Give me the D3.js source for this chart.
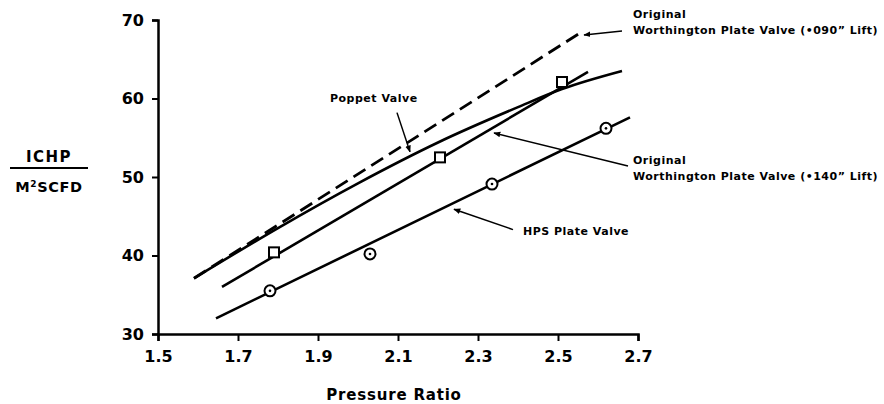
<!DOCTYPE html>
<html>
<head>
<meta charset="utf-8">
<script src="https://cdn.jsdelivr.net/npm/d3@7"></script>
<style>
  body { margin: 0; background: #fff; }
  text { font-family: "DejaVu Sans", sans-serif; font-weight: bold; fill: #000; }
</style>
</head>
<body>
<script>
// data (pressure ratio, ICHP / M2SCFD)
const xTicks = [1.5, 1.7, 1.9, 2.1, 2.3, 2.5, 2.7];
const yTicks = [30, 40, 50, 60, 70];

const lift090 = [[1.59, 37.1], [2.56, 68.5]];
const poppet = [[1.59, 37.1], [1.8, 43.5], [2.0, 49.2], [2.2, 54.4], [2.4, 58.9], [2.51, 61.2], [2.66, 63.5]];
const lift140Line = [[1.66, 36.0], [2.575, 63.4]];
const lift140Pts = [[1.79, 40.4], [2.205, 52.5], [2.51, 62.1]];
const hpsLine = [[1.645, 32.0], [2.68, 57.6]];
const hpsPts = [[1.78, 35.5], [2.03, 40.2], [2.335, 49.1], [2.62, 56.2]];

// annotations: text lines, text anchor, arrow from -> to (data units)
const notes = [
  {lines: ["Poppet Valve"], at: [1.93, 59.5], from: [2.0975, 58.2], to: [2.13, 53.2]},
  {lines: ["Original", "Worthington Plate Valve (\u2022090\u201D Lift)"], at: [2.6875, 70.2], from: [2.66, 68.6], to: [2.565, 68.1]},
  {lines: ["Original", "Worthington Plate Valve (\u2022140\u201D Lift)"], at: [2.6875, 51.7], from: [2.675, 51.4], to: [2.34, 55.6]},
  {lines: ["HPS Plate Valve"], at: [2.4125, 42.6], from: [2.3875, 43.3], to: [2.24, 45.9]}
];

const width = 884, height = 404;

const svg = d3.select("body").append("svg")
    .attr("width", width)
    .attr("height", height);

const x = d3.scaleLinear().domain([1.5, 2.7]).range([158, 638]);
const y = d3.scaleLinear().domain([30, 70]).range([334, 20]);

svg.append("defs").append("marker")
    .attr("id", "arr")
    .attr("viewBox", "0 0 10 10")
    .attr("refX", 9).attr("refY", 5)
    .attr("markerWidth", 7).attr("markerHeight", 7)
    .attr("markerUnits", "userSpaceOnUse")
    .attr("orient", "auto")
    .append("path")
    .attr("d", "M0,1 L10,5 L0,9 Z")
    .attr("fill", "#000");

// axes
const xAxis = svg.append("g")
    .attr("transform", `translate(0,${y(30)})`)
    .call(d3.axisBottom(x).tickValues(xTicks).tickFormat(d3.format(".1f")).tickSize(7).tickPadding(10));
const yAxis = svg.append("g")
    .attr("transform", `translate(${x(1.5)},0)`)
    .call(d3.axisLeft(y).tickValues(yTicks).tickSize(6).tickPadding(8));

[xAxis, yAxis].forEach(g => {
    g.select(".domain").attr("stroke", "#000").attr("stroke-width", 2.5);
    g.selectAll(".tick line").attr("stroke", "#000").attr("stroke-width", 2);
    g.selectAll(".tick text").style("font-size", "16px").style("font-family", "DejaVu Sans").style("font-weight", "bold");
});

// axis titles
svg.append("text")
    .attr("x", x(2.09)).attr("y", 400)
    .attr("text-anchor", "middle")
    .style("font-size", "15px").style("letter-spacing", "0.8px")
    .text("Pressure Ratio");

svg.append("text")
    .attr("x", 49).attr("y", 162)
    .attr("text-anchor", "middle")
    .style("font-size", "15px").style("letter-spacing", "1.5px")
    .text("ICHP");
svg.append("line")
    .attr("x1", 10).attr("x2", 88).attr("y1", 168).attr("y2", 168)
    .attr("stroke", "#000").attr("stroke-width", 2);
const den = svg.append("text")
    .attr("x", 49).attr("y", 192)
    .attr("text-anchor", "middle")
    .style("font-size", "14.5px").style("letter-spacing", "0.6px");
den.append("tspan").text("M");
den.append("tspan").attr("dy", -5).style("font-size", "9px").text("2");
den.append("tspan").attr("dy", 5).text("SCFD");

// curves
const line = d3.line().x(d => x(d[0])).y(d => y(d[1]));
const smooth = d3.line().x(d => x(d[0])).y(d => y(d[1])).curve(d3.curveMonotoneX);

const plot = svg.append("g").attr("fill", "none").attr("stroke", "#000");

plot.append("path").attr("d", line(lift090))
    .attr("stroke-width", 2.8).attr("stroke-dasharray", "14,7");
plot.append("path").attr("d", smooth(poppet)).attr("stroke-width", 2.6);
plot.append("path").attr("d", line(lift140Line)).attr("stroke-width", 2.6);
plot.append("path").attr("d", line(hpsLine)).attr("stroke-width", 2.6);

// markers
const s = 10;
svg.append("g").selectAll("rect")
    .data(lift140Pts)
    .join("rect")
    .attr("x", d => x(d[0]) - s / 2)
    .attr("y", d => y(d[1]) - s / 2)
    .attr("width", s).attr("height", s)
    .attr("fill", "#fff").attr("stroke", "#000").attr("stroke-width", 2);

const circles = svg.append("g").selectAll("g")
    .data(hpsPts)
    .join("g")
    .attr("transform", d => `translate(${x(d[0])},${y(d[1])})`);
circles.append("circle").attr("r", 5.5)
    .attr("fill", "#fff").attr("stroke", "#000").attr("stroke-width", 2);
circles.append("circle").attr("r", 1.3).attr("fill", "#000");

// annotations
const ann = svg.append("g");
notes.forEach(n => {
    ann.append("line")
        .attr("x1", x(n.from[0])).attr("y1", y(n.from[1]))
        .attr("x2", x(n.to[0])).attr("y2", y(n.to[1]))
        .attr("stroke", "#000").attr("stroke-width", 1.5)
        .attr("marker-end", "url(#arr)");
    const t = ann.append("text")
        .attr("x", x(n.at[0])).attr("y", y(n.at[1]))
        .style("font-size", "11px").style("letter-spacing", "0.5px");
    n.lines.forEach((l, i) => {
        t.append("tspan")
            .attr("x", x(n.at[0]))
            .attr("dy", i === 0 ? 0 : 16)
            .text(l);
    });
});
</script>
</body>
</html>
